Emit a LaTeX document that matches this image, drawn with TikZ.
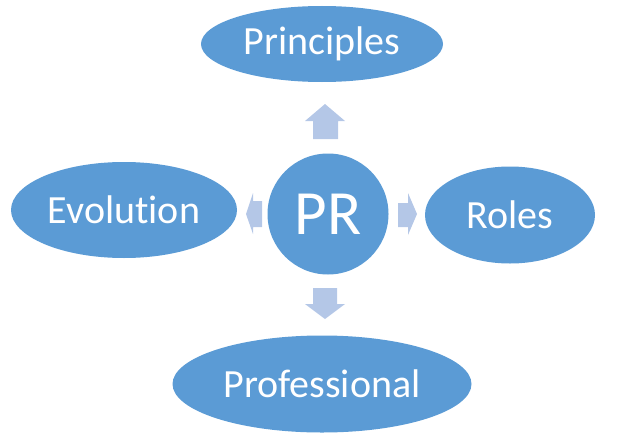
\documentclass[tikz,border=0pt]{standalone}
\usepackage{fontspec}
\setmainfont{Carlito}[Ligatures=NoCommon]
\usetikzlibrary{shapes.geometric,positioning}
\definecolor{prblue}{HTML}{5B9BD5}
\definecolor{arrowblue}{HTML}{B4C7E7}

\begin{document}
\begin{tikzpicture}[x=1pt,y=-1pt]
\useasboundingbox (0,0) rectangle (617,444);
\begin{scope}[every node/.style={ellipse,fill=prblue,text=white,inner sep=0pt,font=\fontsize{40}{44}\selectfont}]
    \node[circle,minimum size=121pt,font=\fontsize{63}{66}\selectfont] (PR) at (328,214) {PR};
    \node[minimum width=242pt,minimum height=76pt] (Pri) at (322,44) {Principles};
    \node[minimum width=226pt,minimum height=96pt] (Evo) at (124,210) {Evolution};
    \node[minimum width=170pt,minimum height=97pt] (Rol) at (510,215) {Roles};
    \node[minimum width=299pt,minimum height=97pt] (Pro) at (322,384) {Professional};
\end{scope}
\begin{scope}[every path/.style={fill=arrowblue}]
    % up
    \path (325,104) -- (345,121) -- (338,121) -- (338,139) -- (313,139) -- (313,121) -- (305,121) -- cycle;
    % down
    \path (313,288) -- (337,288) -- (337,304) -- (345,304) -- (325,319) -- (305,304) -- (313,304) -- cycle;
    % right
    \path (398,203) -- (408,203) -- (408,193) -- (417,214) -- (408,235) -- (408,227) -- (398,227) -- cycle;
    % left
    \path (262,201) -- (253,201) -- (253,193) -- (246,214) -- (253,234) -- (253,227) -- (262,227) -- cycle;
\end{scope}
\end{tikzpicture}
\end{document}
